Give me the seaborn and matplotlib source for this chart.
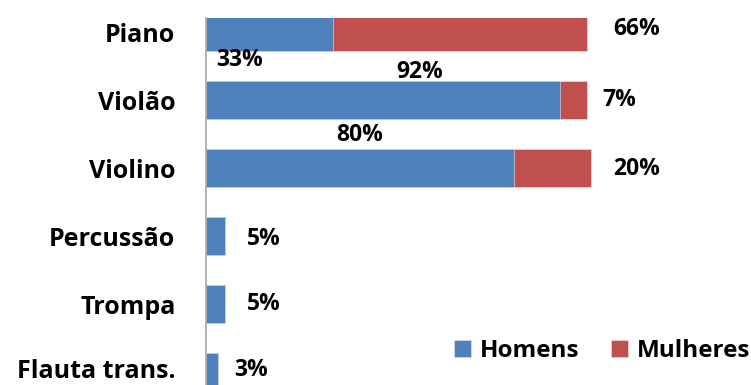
import matplotlib
matplotlib.use("Agg")
import matplotlib.pyplot as plt
import matplotlib.transforms as mtransforms
from matplotlib.patches import Patch
import seaborn as sns
import pandas as pd

instrumentos = ["Piano", "Violão", "Violino", "Percussão", "Trompa", "Flauta trans."]
homens = [33, 92, 80, 5, 5, 3]
mulheres = [66, 7, 20, 0, 0, 0]
series = ["Homens", "Mulheres"]

AZUL = "#4F81BD"
VERMELHO = "#C0504D"

df = pd.DataFrame({"instrumento": instrumentos, "homens": homens, "mulheres": mulheres})
df["total"] = df["homens"] + df["mulheres"]

sns.set_theme(style="white")
plt.rcParams["font.family"] = ["Open Sans", "DejaVu Sans"]
plt.rcParams["font.weight"] = "bold"
plt.rcParams["text.color"] = "black"
plt.rcParams["ytick.color"] = "black"
plt.rcParams["ytick.labelcolor"] = "black"

fig = plt.figure(figsize=(7.51, 3.85), dpi=100)
W, H = 751, 385
ax_left, ax_top = 206, 18
ax = fig.add_axes([ax_left / W, 0, 1 - ax_left / W, (H - ax_top) / H])

# stacked bars: full total in red, men's share drawn on top in blue
sns.barplot(data=df, x="total", y="instrumento", order=instrumentos,
            color=VERMELHO, saturation=1, width=0.56, ax=ax,
            edgecolor="#dfe6f0", linewidth=0.4)
sns.barplot(data=df, x="homens", y="instrumento", order=instrumentos,
            color=AZUL, saturation=1, width=0.56, ax=ax,
            edgecolor="#dfe6f0", linewidth=0.4)

px_per_unit = 3.85
ax.set_xlim(0, (W - ax_left) / px_per_unit)
row_px = 68
first_row_px = 32
ax.set_ylim((H - first_row_px) / row_px, (ax_top - first_row_px) / row_px)

for s in ["top", "right", "bottom"]:
    ax.spines[s].set_visible(False)
ax.spines["left"].set_color("#a6a6a6")
ax.spines["left"].set_linewidth(1.2)
ax.set_xticks([])
ax.set_xlabel("")
ax.set_ylabel("")
ax.tick_params(axis="y", length=0, pad=22, labelsize=18, labelcolor="black")
for t in ax.get_yticklabels():
    t.set_fontweight("bold")
    t.set_color("black")

# keep the last row's label inside the canvas
lift = mtransforms.ScaledTranslation(0, 4 / 100, fig.dpi_scale_trans)
last = ax.get_yticklabels()[-1]
last.set_transform(last.get_transform() + lift)

fs = 16.5
# men's labels for the two-colour bars sit between rows
men_dx = [-7.7, 9.6, 0.0]
men_dy = [0.41, -0.41, -0.49]
for i in range(3):
    ax.text(homens[i] / 2 + men_dx[i], i + men_dy[i], f"{homens[i]}%",
            ha="center", va="center", fontsize=fs, fontweight="bold", color="black")

# labels to the right of each bar
right_dx = [6.7, 3.9, 5.7, 5.6, 5.6, 4.3]
right_dy = [-0.04, 0.0, 0.01, 0.04, 0.0, -0.03]
for i in range(len(instrumentos)):
    val = mulheres[i] if mulheres[i] > 0 else homens[i]
    ax.text(df["total"][i] + right_dx[i], i + right_dy[i], f"{val}%",
            ha="left", va="center", fontsize=fs, fontweight="bold", color="black")

handles = [Patch(facecolor=AZUL, edgecolor="#dfe6f0", linewidth=0.4),
           Patch(facecolor=VERMELHO, edgecolor="#dfe6f0", linewidth=0.4)]
leg = fig.legend(handles, series, loc="center right", bbox_to_anchor=(750 / W, 1 - 351 / H),
                 ncol=2, frameon=False, prop={"weight": "bold", "size": 17.5},
                 handlelength=0.72, handleheight=0.72, handletextpad=0.35,
                 columnspacing=1.3, borderaxespad=0, borderpad=0)
for t in leg.get_texts():
    t.set_color("black")

fig.savefig("out.png", dpi=100)
